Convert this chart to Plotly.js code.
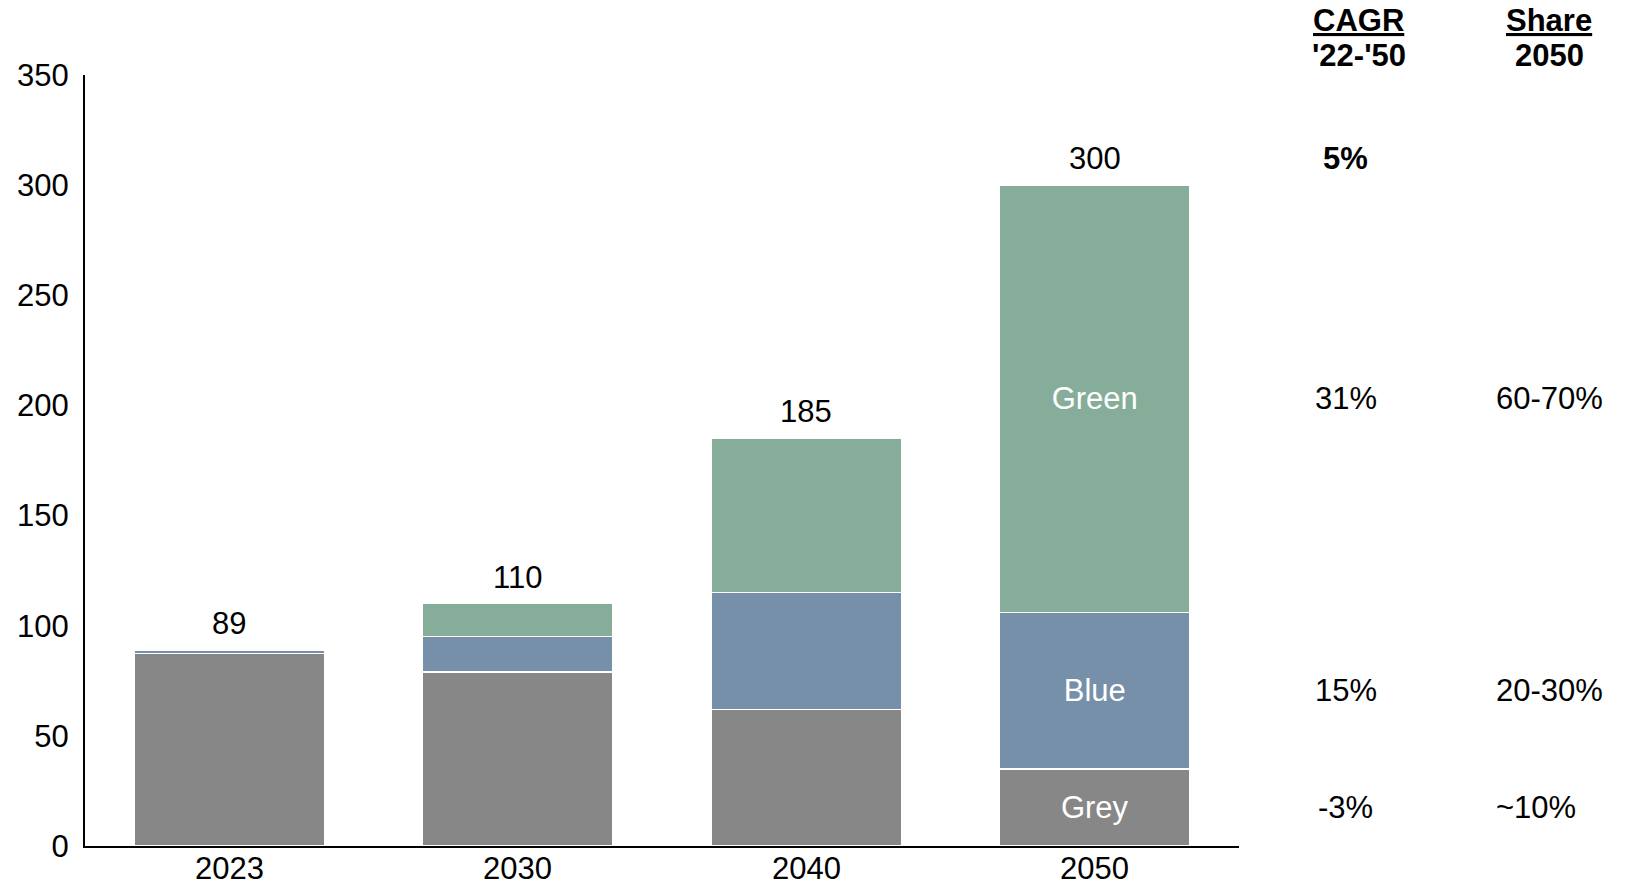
<!DOCTYPE html>
<html>
<head>
<meta charset="utf-8">
<script src="https://cdn.plot.ly/plotly-3.0.1.min.js"></script>
<style>html,body{margin:0;padding:0;background:#fff;}#chart{width:1632px;height:887px;}</style>
</head>
<body>
<div id="chart"></div>
<script>
// ---- data ----
const years = ['2023', '2030', '2040', '2050'];
const greyValues = [87.5, 79, 62, 35];
const blueValues = [1.5, 16, 53, 71];
const greenValues = [0, 15, 70, 194];
const totals = [89, 110, 185, 300];
const segmentNames = ['Grey', 'Blue', 'Green'];
const cagrHeader = ['CAGR', "'22-'50"];
const shareHeader = ['Share', '2050'];
const cagrTotal = '5%';
const cagrBySegment = ['-3%', '15%', '31%'];
const shareBySegment = ['~10%', '20-30%', '60-70%'];

// ---- styling ----
const FONT = '"Liberation Sans", Arial, sans-serif';
const FS = 31;
const colors = ['#878787', '#7790A9', '#85AD99'];
const seriesValues = [greyValues, blueValues, greenValues];
const last = years.length - 1;

const traces = seriesValues.map((vals, i) => ({
  type: 'bar',
  x: years,
  y: vals,
  name: segmentNames[i],
  marker: { color: colors[i], line: { color: '#ffffff', width: 1.5 } },
  text: years.map((_, j) => (j === last ? segmentNames[i] : '')),
  textposition: 'inside',
  insidetextanchor: 'middle',
  textfont: { family: FONT, size: FS, color: '#ffffff' }
}));

const annotations = [];
years.forEach((yr, j) => {
  // total above each bar
  annotations.push({
    x: j, y: totals[j], xref: 'x', yref: 'y',
    text: String(totals[j]), showarrow: false,
    yanchor: 'bottom', yshift: 7,
    font: { family: FONT, size: FS, color: '#000' }
  });
  // category label under the axis
  annotations.push({
    x: j, y: 0, xref: 'x', yref: 'y',
    text: yr, showarrow: false,
    yanchor: 'middle', yshift: -22,
    font: { family: FONT, size: FS, color: '#000' }
  });
});

const cagrX = 1.0923, cagrHeadX = 1.1038, shareX = 1.2214, shareHeadX = 1.2689;
const headY = [1.0713, 1.0259];
cagrHeader.forEach((t, i) => annotations.push({
  x: cagrHeadX, y: headY[i], xref: 'paper', yref: 'paper', showarrow: false,
  text: i === 0 ? '<b><u>' + t + '</u></b>' : '<b>' + t + '</b>',
  xanchor: 'center', yanchor: 'middle',
  font: { family: FONT, size: FS, color: '#000' }
}));
shareHeader.forEach((t, i) => annotations.push({
  x: shareHeadX, y: headY[i], xref: 'paper', yref: 'paper', showarrow: false,
  text: i === 0 ? '<b><u>' + t + '</u></b>' : '<b>' + t + '</b>',
  xanchor: 'center', yanchor: 'middle',
  font: { family: FONT, size: FS, color: '#000' }
}));
annotations.push({
  x: cagrX, y: totals[last], xref: 'paper', yref: 'y', showarrow: false,
  text: '<b>' + cagrTotal + '</b>', xanchor: 'center', yanchor: 'bottom', yshift: 7,
  font: { family: FONT, size: FS, color: '#000' }
});
let base = 0;
seriesValues.forEach((vals, i) => {
  const mid = base + vals[last] / 2;
  base += vals[last];
  annotations.push({
    x: cagrX, y: mid, xref: 'paper', yref: 'y', showarrow: false,
    text: cagrBySegment[i], xanchor: 'center', yanchor: 'middle',
    font: { family: FONT, size: FS, color: '#000' }
  });
  annotations.push({
    x: shareX, y: mid, xref: 'paper', yref: 'y', showarrow: false,
    text: shareBySegment[i], xanchor: 'left', yanchor: 'middle',
    font: { family: FONT, size: FS, color: '#000' }
  });
});

const layout = {
  width: 1632, height: 887,
  margin: { l: 85, r: 393, t: 75, b: 41, pad: 0 },
  paper_bgcolor: '#ffffff', plot_bgcolor: '#ffffff',
  barmode: 'stack',
  bargap: 0.34,
  showlegend: false,
  font: { family: FONT, size: FS, color: '#000' },
  xaxis: {
    type: 'category',
    range: [-0.5, 3.5],
    showline: true, linecolor: '#000', linewidth: 2,
    ticks: '', showticklabels: false, showgrid: false, zeroline: false
  },
  yaxis: {
    range: [0, 350], dtick: 50, tick0: 0,
    showline: true, linecolor: '#000', linewidth: 2,
    ticks: 'outside', ticklen: 8, tickcolor: 'rgba(0,0,0,0)',
    showgrid: false, zeroline: false,
    tickfont: { family: FONT, size: FS, color: '#000' }
  },
  annotations: annotations
};

Plotly.newPlot('chart', traces, layout, { displayModeBar: false });
</script>
</body>
</html>
